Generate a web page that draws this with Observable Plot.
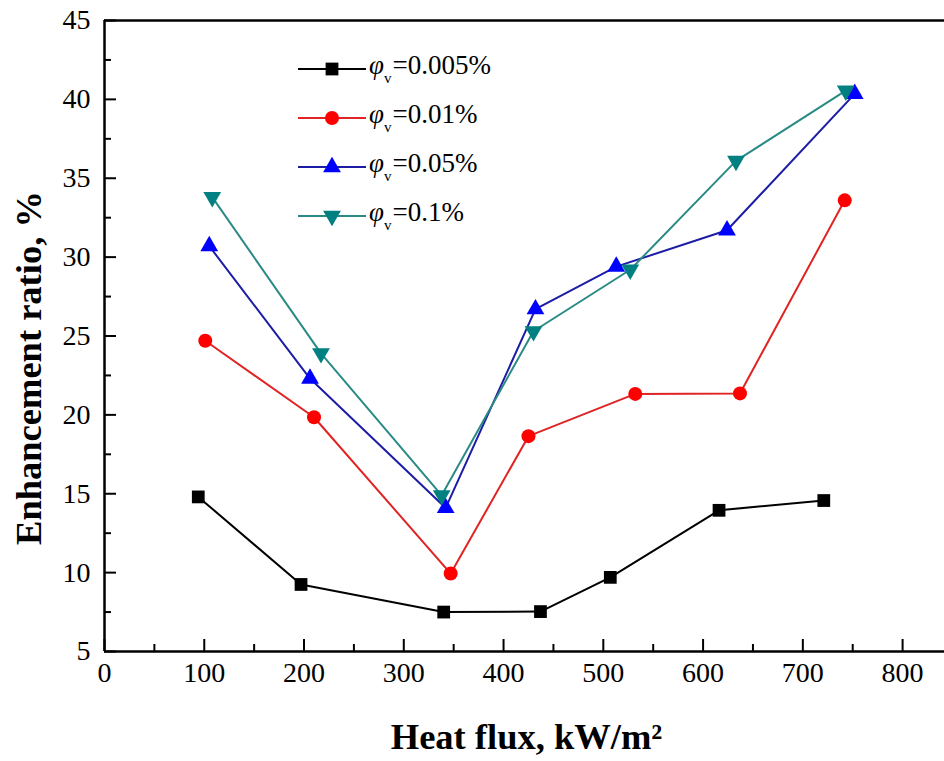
<!DOCTYPE html>
<html><head><meta charset="utf-8">
<script src="https://cdn.jsdelivr.net/npm/d3@7"></script>
<script src="https://cdn.jsdelivr.net/npm/@observablehq/plot@0.6"></script>
<style>
body{margin:0;background:#fff;}
#wrap{position:relative;width:944px;height:761px;font-family:"Liberation Serif","Times New Roman",serif;overflow:hidden;}
#legend{position:absolute;left:298px;top:44px;}
.row{display:flex;align-items:center;height:49px;}
.row svg{display:block}
.lab{font-size:27px;margin-left:3px;line-height:1;color:#000;white-space:nowrap;font-family:"Liberation Serif",serif;}
.lab i{font-style:italic}
.lab sub{font-size:15px;vertical-align:-9px;margin-right:1px}
</style></head><body><div id="wrap"></div>
<script>
// ---- data ----
const seriesLabels = ["0.005%", "0.01%", "0.05%", "0.1%"];
const x005 = [94, 197, 340, 437, 507, 616, 721];
const y005 = [14.8, 9.25, 7.5, 7.53, 9.7, 13.95, 14.57];
const x01 = [101, 210, 347, 425, 532, 637, 742];
const y01 = [24.7, 19.85, 9.94, 18.65, 21.33, 21.36, 33.6];
const x05 = [105, 206, 342, 432, 513, 624, 752];
const y05 = [30.7, 22.3, 14.1, 26.7, 29.4, 31.7, 40.35];
const x1 = [108, 217, 338, 430, 527, 633, 743];
const y1 = [33.8, 23.9, 14.9, 25.3, 29.2, 36.1, 40.55];
const xTicks = [0, 100, 200, 300, 400, 500, 600, 700, 800];
const xMinor = [50, 150, 250, 350, 450, 550, 650, 750];
const yTicks = [5, 10, 15, 20, 25, 30, 35, 40, 45];
const yMinor = [7.5, 12.5, 17.5, 22.5, 27.5, 32.5, 37.5, 42.5];
const xTitle = "Heat flux, kW/m\u00B2";
const yTitle = "Enhancement ratio, %";

// ---- styling ----
const sqrt3 = Math.sqrt(3);
const triangleDown = {draw(ctx, size) {
  const y = -Math.sqrt(size / (sqrt3 * 3));
  ctx.moveTo(0, -y * 2); ctx.lineTo(-sqrt3 * y, y); ctx.lineTo(sqrt3 * y, y); ctx.closePath();
}};
const styles = [
  {line: "#000000", fill: "#000000", symbol: "square", r: 7.2, d3sym: d3.symbolSquare},
  {line: "#e02424", fill: "#ff0000", symbol: "circle", r: 7, d3sym: d3.symbolCircle},
  {line: "#1c1ca6", fill: "#0000ff", symbol: "triangle", r: 6.6, d3sym: d3.symbolTriangle},
  {line: "#2a8a84", fill: "#008080", symbol: triangleDown, r: 6.6, d3sym: triangleDown}
];
const xs = [x005, x01, x05, x1], ys = [y005, y01, y05, y1];
const series = xs.map((xa, i) => xa.map((x, j) => ({x, y: ys[i][j]})));

const W = 944, H = 761, mL = 104, mR = 0, mT = 20, mB = 110;
const plotW = W - mL - mR, plotH = H - mT - mB;
const serif = "Liberation Serif";

const marks = [];
series.forEach((d, i) => {
  marks.push(Plot.line(d, {x: "x", y: "y", stroke: styles[i].line, strokeWidth: 2}));
});
series.forEach((d, i) => {
  marks.push(Plot.dot(d, {x: "x", y: "y", symbol: styles[i].symbol, r: styles[i].r, fill: styles[i].fill, stroke: "none"}));
});

const chart = Plot.plot({
  width: W, height: H,
  marginLeft: mL, marginRight: mR, marginTop: mT, marginBottom: mB,
  x: {domain: [0, 842], axis: null},
  y: {domain: [5, 45], axis: null},
  style: {fontFamily: serif, fontSize: "28px", color: "#000", background: "#fff"},
  marks: [
    ...marks,
    Plot.ruleY([45], {strokeWidth: 2.5}),
    Plot.ruleY([5], {strokeWidth: 2.5}),
    Plot.ruleX([0], {strokeWidth: 2.5}),
    Plot.ruleX(xTicks, {x: d => d, insetTop: plotH - 12, strokeWidth: 2}),
    Plot.ruleX(xMinor, {x: d => d, insetTop: plotH - 7, strokeWidth: 2}),
    Plot.ruleY(yTicks, {y: d => d, insetRight: plotW - 12, strokeWidth: 2}),
    Plot.ruleY(yMinor, {y: d => d, insetRight: plotW - 7, strokeWidth: 2}),
    Plot.text(xTicks, {x: d => d, text: d => String(d), frameAnchor: "bottom", lineAnchor: "top", dy: 11, fontFamily: serif, fontSize: 28, fill: "#000"}),
    Plot.text(yTicks, {y: d => d, text: d => String(d), frameAnchor: "left", textAnchor: "end", dx: -14, fontFamily: serif, fontSize: 28, fill: "#000"}),
    Plot.text([xTitle], {frameAnchor: "bottom", dy: 97, dx: 2, fontFamily: serif, fontWeight: "bold", fontSize: 36.5, text: d => d}),
    Plot.text([yTitle], {frameAnchor: "left", textAnchor: "middle", dx: -75, dy: 32, rotate: -90, fontFamily: serif, fontWeight: "bold", fontSize: 36.5, text: d => d})
  ]
});
const wrap = document.getElementById("wrap");
wrap.appendChild(chart);

// ---- legend overlay ----
const legend = document.createElement("div");
legend.id = "legend";
seriesLabels.forEach((lab, i) => {
  const row = document.createElement("div");
  row.className = "row";
  const svg = d3.create("svg").attr("width", 68).attr("height", 20);
  svg.append("line").attr("x1", 0).attr("x2", 68).attr("y1", 10).attr("y2", 10)
    .attr("stroke", styles[i].line).attr("stroke-width", 2);
  svg.append("path").attr("transform", "translate(34,10)")
    .attr("d", d3.symbol(styles[i].d3sym, Math.PI * styles[i].r * styles[i].r)())
    .attr("fill", styles[i].fill);
  row.appendChild(svg.node());
  const t = document.createElement("span");
  t.className = "lab";
  t.innerHTML = "<i>\u03C6</i><sub>v</sub>=" + lab;
  row.appendChild(t);
  legend.appendChild(row);
});
wrap.appendChild(legend);
</script></body></html>
